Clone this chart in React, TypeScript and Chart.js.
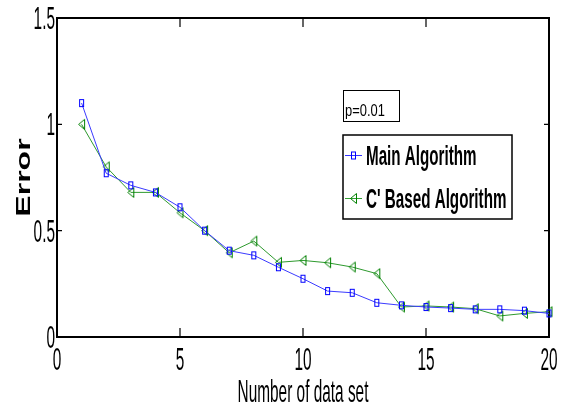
import { useEffect, useRef } from "react";
import { Chart, registerables } from "chart.js";

Chart.register(...registerables);

const xValues = [1, 2, 3, 4, 5, 6, 7, 8, 9, 10, 11, 12, 13, 14, 15, 16, 17, 18, 19, 20];
const mainAlgorithm = [1.10, 0.77, 0.713, 0.68, 0.61, 0.50, 0.406, 0.384, 0.328, 0.274, 0.216, 0.208, 0.161, 0.149, 0.141, 0.136, 0.130, 0.130, 0.124, 0.111];
const cBasedAlgorithm = [1.00, 0.80, 0.68, 0.68, 0.584, 0.50, 0.396, 0.451, 0.351, 0.36, 0.349, 0.329, 0.298, 0.141, 0.146, 0.141, 0.133, 0.099, 0.111, 0.119];
const xTicks = [0, 5, 10, 15, 20];
const xTickLabels = ["0", "5", "10", "15", "20"];
const yTicks = [0, 0.5, 1, 1.5];
const yTickLabels = ["0", "0.5", "1", "1.5"];
const seriesNames = ["Main Algorithm", "C' Based Algorithm"];
const annotationText = "p=0.01";
const xTitle = "Number of data set";
const yTitle = "Error";

const FONT = '"Liberation Sans", Arial, sans-serif';

function txt(
  ctx: CanvasRenderingContext2D,
  s: string,
  x: number,
  y: number,
  font: string,
  align: CanvasTextAlign,
  sx: number,
  sy: number,
  color = "#000"
) {
  ctx.save();
  ctx.translate(x, y);
  ctx.scale(sx, sy);
  ctx.font = font;
  ctx.textAlign = align;
  ctx.textBaseline = "alphabetic";
  ctx.fillStyle = color;
  ctx.fillText(s, 0, 0);
  ctx.restore();
}

function makeSquare(): HTMLCanvasElement {
  const c = document.createElement("canvas");
  c.width = 7;
  c.height = 10;
  const g = c.getContext("2d")!;
  g.strokeStyle = "#0000ff";
  g.lineWidth = 1;
  g.strokeRect(1.5, 1.5, 4, 7);
  return c;
}

function makeTriangle(): HTMLCanvasElement {
  const c = document.createElement("canvas");
  c.width = 9;
  c.height = 13;
  const g = c.getContext("2d")!;
  g.strokeStyle = "#008000";
  g.lineWidth = 1;
  g.beginPath();
  g.moveTo(1.5, 6.5);
  g.lineTo(7.5, 1.5);
  g.lineTo(7.5, 11.5);
  g.closePath();
  g.stroke();
  return c;
}

export default function App() {
  const ref = useRef<HTMLCanvasElement | null>(null);

  useEffect(() => {
    document.body.style.margin = "0";
    const canvas = ref.current;
    if (!canvas) return;
    const sq = makeSquare();
    const tri = makeTriangle();

    const framePlugin = {
      id: "matlabFrame",
      beforeDatasetsDraw(chart: any) {
        const { ctx, chartArea } = chart;
        const { left, right, top, bottom } = chartArea;
        const xs = chart.scales.x;
        const ys = chart.scales.y;
        ctx.save();
        ctx.fillStyle = "#fff";
        ctx.fillRect(0, 0, chart.width, chart.height);
        ctx.strokeStyle = "#000";
        ctx.lineWidth = 1.2;
        ctx.beginPath();
        xTicks.forEach((v) => {
          const px = xs.getPixelForValue(v);
          ctx.moveTo(px, bottom);
          ctx.lineTo(px, bottom - 9);
          ctx.moveTo(px, top);
          ctx.lineTo(px, top + 9);
        });
        yTicks.forEach((v) => {
          const py = ys.getPixelForValue(v);
          ctx.moveTo(left, py);
          ctx.lineTo(left + 5, py);
          ctx.moveTo(right, py);
          ctx.lineTo(right - 5, py);
        });
        ctx.stroke();
        ctx.lineWidth = 2;
        ctx.strokeRect(left, top, right - left, bottom - top);

        const tickFont = `19px ${FONT}`;
        yTicks.forEach((v, i) => {
          const py = ys.getPixelForValue(v);
          txt(ctx, yTickLabels[i], left - 2, py + 11, tickFont, "right", 0.81, 1.65);
        });
        xTicks.forEach((v, i) => {
          const px = xs.getPixelForValue(v);
          txt(ctx, xTickLabels[i], px, bottom + 33, tickFont, "center", 0.81, 1.65);
        });
        txt(ctx, xTitle, (left + right) / 2, bottom + 65, tickFont, "center", 0.81, 1.65);

        ctx.save();
        ctx.translate(30, (top + bottom) / 2 + 0);
        ctx.rotate(-Math.PI / 2);
        ctx.scale(1.6, 1.05);
        ctx.font = `bold 20px ${FONT}`;
        ctx.textAlign = "center";
        ctx.textBaseline = "alphabetic";
        ctx.fillStyle = "#000";
        ctx.fillText(yTitle, 0, 0);
        ctx.restore();
        ctx.restore();
      },
      afterDatasetsDraw(chart: any) {
        const { ctx } = chart;
        ctx.save();
        // annotation box
        ctx.fillStyle = "#fff";
        ctx.fillRect(343, 90, 56, 31);
        ctx.strokeStyle = "#000";
        ctx.lineWidth = 1;
        ctx.strokeRect(343.5, 90.5, 56, 31);
        txt(ctx, annotationText, 345, 116, `15px ${FONT}`, "left", 0.86, 1.12);

        // legend box
        ctx.fillStyle = "#fff";
        ctx.fillRect(343, 135, 169, 84);
        ctx.lineWidth = 1.5;
        ctx.strokeStyle = "#000";
        ctx.strokeRect(343, 135, 169, 84);
        const rows = [155, 198];
        const colors = ["#3333ff", "#33a033"];
        const imgs = [sq, tri];
        rows.forEach((ry, i) => {
          ctx.strokeStyle = colors[i];
          ctx.lineWidth = 1;
          ctx.beginPath();
          ctx.moveTo(345, ry + 0.5);
          ctx.lineTo(362, ry + 0.5);
          ctx.stroke();
          const im = imgs[i];
          ctx.drawImage(im, 353.5 - im.width / 2, ry + 0.5 - im.height / 2);
          txt(ctx, seriesNames[i], 366, ry + 10, `bold 19px ${FONT}`, "left", 0.8, 1.47);
        });
        ctx.restore();
      },
    };

    const chart = new Chart(canvas, {
      type: "line",
      data: {
        datasets: [
          {
            label: seriesNames[0],
            data: xValues.map((x, i) => ({ x, y: mainAlgorithm[i] })),
            borderColor: "#3b3bff",
            borderWidth: 1,
            pointStyle: sq as any,
            pointRadius: 4,
            fill: false,
            tension: 0,
            clip: false as any,
          },
          {
            label: seriesNames[1],
            data: xValues.map((x, i) => ({ x, y: cBasedAlgorithm[i] })),
            borderColor: "#2e9a2e",
            borderWidth: 1,
            pointStyle: tri as any,
            pointRadius: 4,
            fill: false,
            tension: 0,
            clip: false as any,
          },
        ],
      },
      options: {
        animation: false,
        responsive: false,
        devicePixelRatio: 1,
        events: [],
        layout: { padding: { top: 18, right: 12, left: 0, bottom: 0 } },
        plugins: { legend: { display: false }, tooltip: { enabled: false } },
        scales: {
          x: {
            type: "linear",
            min: 0,
            max: 20,
            grid: { display: false },
            border: { display: false },
            ticks: { display: false },
            afterFit: (s: any) => {
              s.height = 73;
            },
          },
          y: {
            type: "linear",
            min: 0,
            max: 1.5,
            grid: { display: false },
            border: { display: false },
            ticks: { display: false },
            afterFit: (s: any) => {
              s.width = 57;
            },
          },
        },
      },
      plugins: [framePlugin],
    });
    return () => chart.destroy();
  }, []);

  return <canvas ref={ref} width={561} height={410} style={{ display: "block" }} />;
}
